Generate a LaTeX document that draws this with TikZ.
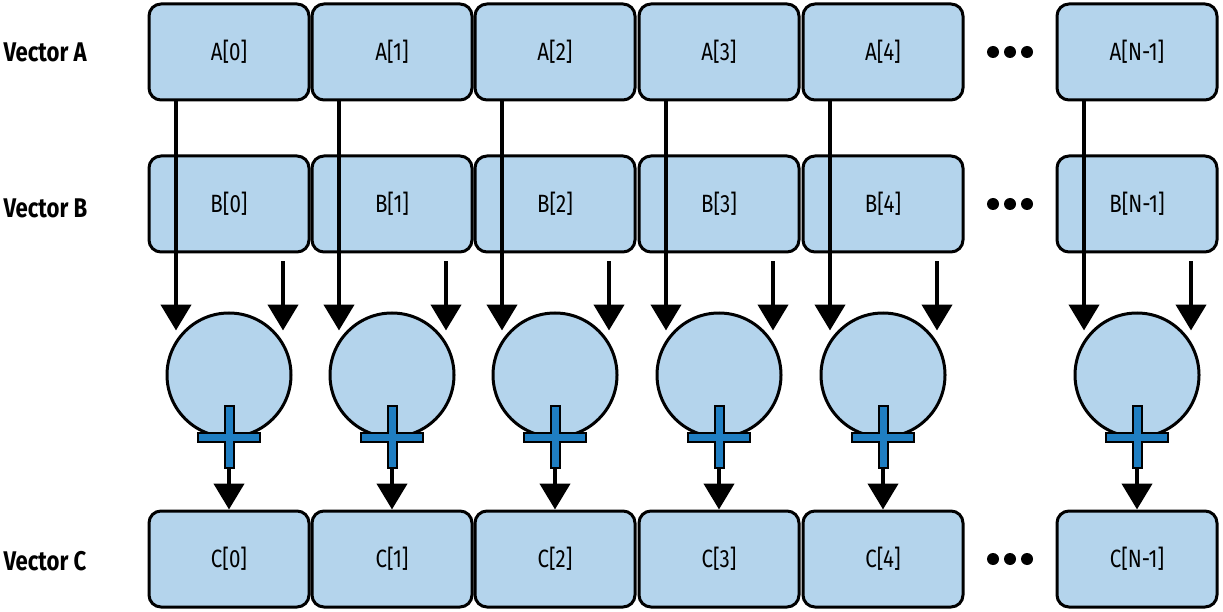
\documentclass[tikz,border=0pt]{standalone}
\usepackage{fontspec}
\setmainfont{Fira Sans}[FakeStretch=0.82]
\usetikzlibrary{arrows.meta}
\definecolor{boxfill}{HTML}{B4D4EC}
\definecolor{plusblue}{HTML}{1F7EC2}
\begin{document}
\begin{tikzpicture}[x=1pt,y=-1pt,
  box/.style={draw=black,line width=3pt,fill=boxfill,rounded corners=12pt,minimum width=160pt,minimum height=96pt,inner sep=0pt,font=\fontsize{25}{28}\selectfont},
  adder/.style={draw=black,line width=3pt,fill=boxfill,circle,minimum size=124pt,inner sep=0pt},
  lab/.style={font=\fontsize{27}{30}\selectfont\bfseries,anchor=west},
  arr/.style={line width=4.5pt,-{Triangle[width=30pt,length=26pt]}},
  dot/.style={fill=black,circle,inner sep=0pt,minimum size=12pt}]
\useasboundingbox (0,0) rectangle (1223,612);
\node[lab] (la) at (0,52) {Vector A};
\node[lab] (lb) at (0,208) {Vector B};
\node[lab] (lc) at (0,561) {Vector C};
\foreach \i/\x/\t in {0/229/0,1/392/1,2/555/2,3/719/3,4/883/4,5/1137/N-1}{
  \node[box] (b\i) at (\x,204) {B[\t]};
  \node[box] (a\i) at (\x,52) {A[\t]};
  \node[box] (c\i) at (\x,559) {C[\t]};
  \node[adder] (p\i) at (\x,375) {};
  \draw[arr] ([xshift=-53pt]a\i.south) -- ([xshift=-53pt,yshift=-19pt]p\i.north);
  \draw[arr] ([xshift=54pt,yshift=-8pt]b\i.south) -- ([xshift=54pt,yshift=-19pt]p\i.north);
  \draw[arr] (p\i.south) -- (c\i.north);
  \draw[line width=2pt,fill=plusblue]
    ([xshift=-4.5pt,yshift=-31pt]p\i.center) -- ++(9,0) -- ++(0,26.5) -- ++(26.5,0) -- ++(0,9) -- ++(-26.5,0) -- ++(0,26.5) -- ++(-9,0) -- ++(0,-26.5) -- ++(-26.5,0) -- ++(0,-9) -- ++(26.5,0) -- cycle;
}
\foreach \y/\r in {52/a,204/b,559/c}{
  \node[dot] (d1\r) at (993,\y) {};
  \node[dot] (d2\r) at (1010,\y) {};
  \node[dot] (d3\r) at (1027,\y) {};
}
\end{tikzpicture}
\end{document}
